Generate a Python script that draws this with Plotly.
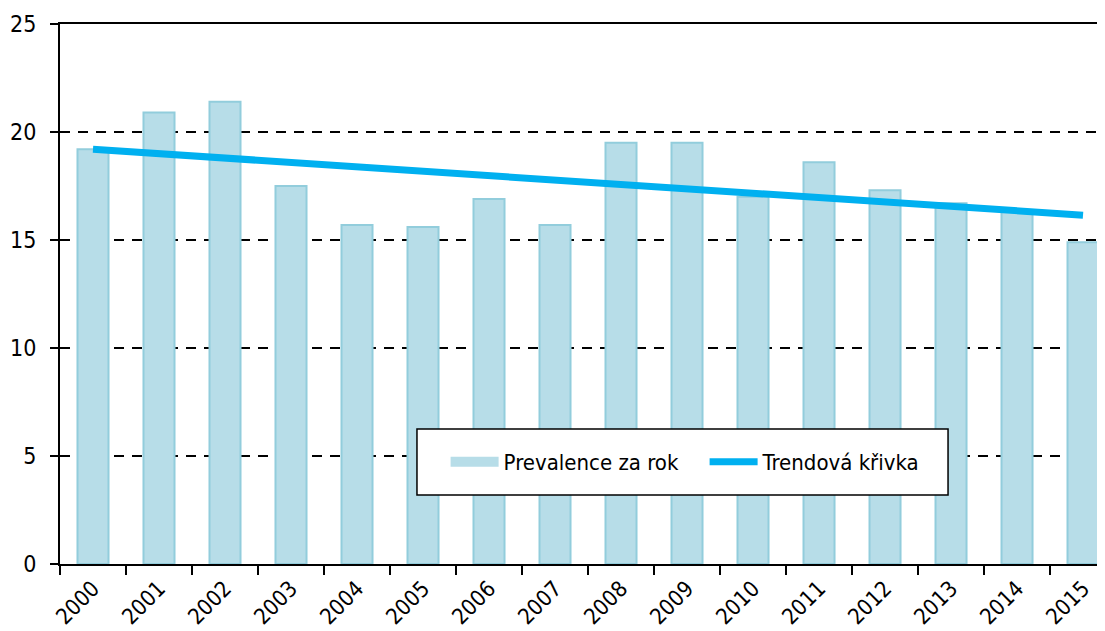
import plotly.graph_objects as go

years = [str(y) for y in range(2000, 2016)]
prevalence = [19.2, 20.9, 21.4, 17.5, 15.7, 15.6, 16.9, 15.7, 19.5, 19.5, 17.0, 18.6, 17.3, 16.7, 16.3, 14.9]
trend_years = ["2000", "2015"]
trend_values = [19.2, 16.15]
y_ticks = [0, 5, 10, 15, 20, 25]

FONT = "Liberation Sans Narrow, DejaVu Sans Condensed, Liberation Sans, sans-serif"
BAR_FILL = "#b7dde8"
BAR_EDGE = "#92cddc"

fig = go.Figure()
fig.add_trace(go.Bar(
    x=years, y=prevalence, name="Prevalence za rok", showlegend=False,
    marker=dict(color=BAR_FILL, line=dict(color=BAR_EDGE, width=2)),
    width=0.47,
))
# legend swatch for the bars (wide rectangle like the original)
fig.add_trace(go.Scatter(
    x=[None], y=[None], name="Prevalence za rok", mode="lines",
    line=dict(color=BAR_FILL, width=15),
))
fig.add_trace(go.Scatter(
    x=trend_years, y=trend_values, name="Trendová křivka", mode="lines",
    line=dict(color="#00b0f0", width=7),
))

# legend frame
fig.add_shape(type="rect", xref="paper", yref="paper",
              x0=0.3416, x1=0.8498, y0=0.128, y1=0.25,
              line=dict(color="black", width=1.5), fillcolor="white", layer="above")

fig.update_layout(
    width=1097, height=623,
    margin=dict(l=52, r=0, t=16, b=67),
    paper_bgcolor="white", plot_bgcolor="white",
    font=dict(family=FONT, size=22, color="black"),
    showlegend=True,
    legend=dict(
        orientation="h", x=0.369, y=0.189, xanchor="left", yanchor="middle",
        bgcolor="rgba(0,0,0,0)", borderwidth=0,
        font=dict(family=FONT, size=22), entrywidth=196,
        itemwidth=48,
    ),
    bargap=0.53,
)
fig.update_xaxes(
    type="category", range=[-0.5, 15.333], automargin=False,
    showline=True, linecolor="black", linewidth=2, mirror=True,
    ticks="outside", ticklen=9, tickwidth=2, tickcolor="black",
    tickson="boundaries", tickangle=-45, ticklabelstandoff=1,
    showgrid=False, tickfont=dict(size=22),
)
fig.update_yaxes(
    range=[0, 25], tickvals=y_ticks, automargin=False,
    showline=True, linecolor="black", linewidth=2,
    ticks="outside", ticklen=8, tickwidth=2, tickcolor="black",
    showgrid=True, gridcolor="black", gridwidth=2, griddash="10px,8px",
    zeroline=False, ticklabelstandoff=9, tickfont=dict(size=23),
)

fig.write_html("out.html")
